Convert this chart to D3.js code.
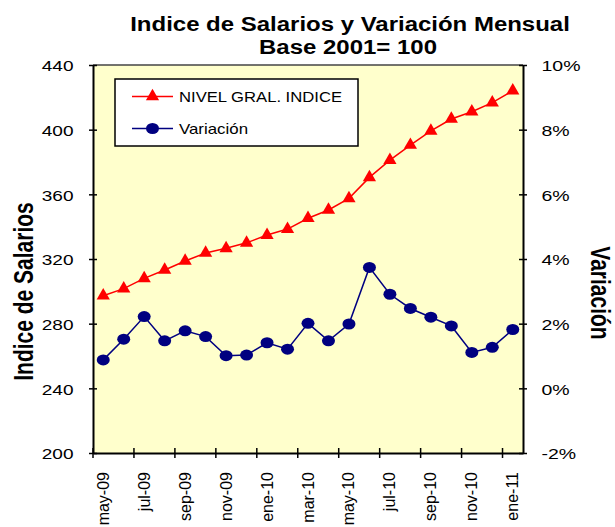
<!DOCTYPE html>
<html>
<head>
<meta charset="utf-8">
<script src="https://cdn.jsdelivr.net/npm/d3@7"></script>
<style>
  body { margin: 0; background: #fff; }
  text { font-family: Arial, "Liberation Sans", sans-serif; }
</style>
</head>
<body>
<div id="chartbox"></div>
<script>
// months, may-09 .. ene-11
var months = ['may-09','jun-09','jul-09','ago-09','sep-09','oct-09','nov-09','dic-09',
  'ene-10','feb-10','mar-10','abr-10','may-10','jun-10','jul-10','ago-10','sep-10','oct-10',
  'nov-10','dic-10','ene-11'];
var indice = [297.3, 301.7, 308, 313.2, 318.8, 323.7, 326.6, 330, 334.8, 338.5, 345.2,
  350.3, 357.5, 370.5, 381.2, 390.5, 399.2, 406.6, 411.1, 416.7, 424.1];
var variacion = [0.88, 1.52, 2.22, 1.47, 1.78, 1.60, 1.01, 1.03, 1.41, 1.21, 2.01,
  1.47, 1.99, 3.74, 2.91, 2.47, 2.20, 1.93, 1.11, 1.27, 1.82];
var leftTicks = [200, 240, 280, 320, 360, 400, 440];
var rightTicks = [-2, 0, 2, 4, 6, 8, 10];

const width = 615, height = 527;
var margin = {top: 65, right: 92, bottom: 74, left: 93};
var stretch = 1.27; // the picture is a bit wide

var svg = d3.select('#chartbox').append('svg')
  .attr('width', width).attr('height', height);

var x = d3.scaleBand().domain(months).range([margin.left, width - margin.right]);
var y = d3.scaleLinear().domain([200, 440]).range([height - margin.bottom, margin.top]);
var y2 = d3.scaleLinear().domain([-2, 10]).range([height - margin.bottom, margin.top]);
var cx = function(i) { return x(months[i]) + x.bandwidth() / 2; };

// plot background
svg.append('rect')
  .attr('x', margin.left).attr('y', margin.top)
  .attr('width', width - margin.right - margin.left)
  .attr('height', height - margin.bottom - margin.top)
  .attr('fill', '#ffffcc');
svg.append('line')
  .attr('x1', margin.left).attr('x2', width - margin.right)
  .attr('y1', margin.top).attr('y2', margin.top)
  .attr('stroke', '#444').attr('stroke-width', 1.5);

// axes (labels drawn by hand below so they can be stretched)
var yAxis = d3.axisLeft(y).tickValues(leftTicks).tickSizeInner(4).tickSizeOuter(0).tickFormat('');
var gy = svg.append('g').attr('transform', 'translate(' + margin.left + ',0)').call(yAxis);
var y2Axis = d3.axisRight(y2).tickValues(rightTicks).tickSizeInner(4).tickSizeOuter(0).tickFormat('');
var gy2 = svg.append('g').attr('transform', 'translate(' + (width - margin.right) + ',0)').call(y2Axis);
var xAxis = d3.axisBottom(x).tickValues([]).tickSizeOuter(0);
var gx = svg.append('g').attr('transform', 'translate(0,' + (height - margin.bottom) + ')').call(xAxis);

[gy, gy2, gx].forEach(function(g) {
  g.select('.domain').attr('stroke', '#000').attr('stroke-width', 2);
  g.selectAll('.tick line').attr('stroke', '#000').attr('stroke-width', 1.5);
});
gy.selectAll('.tick line').attr('x1', 4);
gy2.selectAll('.tick line').attr('x1', -4);

gy.selectAll('.tick').append('text')
  .attr('transform', 'translate(-19.5,0) scale(' + stretch + ',1)')
  .attr('dy', '0.38em').attr('text-anchor', 'end')
  .attr('font-size', 15).attr('fill', '#000')
  .text(function(d) { return d; });
gy2.selectAll('.tick').append('text')
  .attr('transform', 'translate(18.5,0) scale(1.3,1)')
  .attr('dy', '0.38em').attr('text-anchor', 'start')
  .attr('font-size', 15).attr('fill', '#000')
  .text(function(d) { return d + '%'; });

// category ticks every 2 months, labels on band centres
var tickIdx = d3.range(0, months.length + 1, 2);
gx.selectAll('line.cat').data(tickIdx).enter().append('line')
  .attr('class', 'cat')
  .attr('x1', function(i) { return i < months.length ? x(months[i]) : x.range()[1]; })
  .attr('x2', function(i) { return i < months.length ? x(months[i]) : x.range()[1]; })
  .attr('y1', -5).attr('y2', 5)
  .attr('stroke', '#000').attr('stroke-width', 1.5);
gx.selectAll('text.cat').data(months.filter(function(d, i) { return i % 2 == 0; })).enter().append('text')
  .attr('class', 'cat')
  .attr('transform', function(d) { return 'translate(' + (x(d) + x.bandwidth() / 2 + 5.5) + ',19) rotate(-90)'; })
  .attr('text-anchor', 'end')
  .attr('font-size', 16)
  .attr('fill', '#000')
  .text(function(d) { return d; });

// lines
var lineIdx = d3.line().x(function(d, i) { return cx(i); }).y(function(d) { return y(d); });
var lineVar = d3.line().x(function(d, i) { return cx(i); }).y(function(d) { return y2(d); });

svg.append('path').datum(indice).attr('d', lineIdx)
  .attr('fill', 'none').attr('stroke', '#ff0000').attr('stroke-width', 1.5);
svg.append('path').datum(variacion).attr('d', lineVar)
  .attr('fill', 'none').attr('stroke', '#000080').attr('stroke-width', 1.5);

var tri = d3.symbol().type(d3.symbolTriangle).size(76);
svg.selectAll('path.tri').data(indice).enter().append('path')
  .attr('class', 'tri')
  .attr('d', tri)
  .attr('transform', function(d, i) { return 'translate(' + cx(i) + ',' + y(d) + ')'; })
  .attr('fill', '#ff0000');

svg.selectAll('ellipse.dot').data(variacion).enter().append('ellipse')
  .attr('class', 'dot')
  .attr('cx', function(d, i) { return cx(i); })
  .attr('cy', function(d) { return y2(d); })
  .attr('rx', 6.5).attr('ry', 5.5)
  .attr('fill', '#000080');

// legend
var lg = svg.append('g');
lg.append('rect').attr('x', 115).attr('y', 79).attr('width', 243).attr('height', 67)
  .attr('fill', '#fff').attr('stroke', '#000').attr('stroke-width', 1.5);
lg.append('line').attr('x1', 132).attr('x2', 173).attr('y1', 96.5).attr('y2', 96.5)
  .attr('stroke', '#ff0000').attr('stroke-width', 1.5);
lg.append('path').attr('d', tri).attr('transform', 'translate(152.5,96.5)').attr('fill', '#ff0000');
lg.append('text').attr('x', 179).attr('y', 101.7).attr('font-size', 15)
  .attr('textLength', 163).attr('lengthAdjust', 'spacingAndGlyphs').text('NIVEL GRAL. INDICE');
lg.append('line').attr('x1', 132).attr('x2', 173).attr('y1', 128.5).attr('y2', 128.5)
  .attr('stroke', '#000080').attr('stroke-width', 1.5);
lg.append('ellipse').attr('cx', 152.5).attr('cy', 128.5).attr('rx', 6.5).attr('ry', 5.5).attr('fill', '#000080');
lg.append('text').attr('x', 179).attr('y', 134).attr('font-size', 15)
  .attr('textLength', 69).attr('lengthAdjust', 'spacingAndGlyphs').text('Variación');

// titles
svg.append('text').attr('transform', 'translate(350,30.7) scale(1.23,1)').attr('text-anchor', 'middle')
  .attr('font-size', 19.5).attr('font-weight', 'bold').text('Indice de Salarios y Variación Mensual');
svg.append('text').attr('transform', 'translate(348,54) scale(1.23,1)').attr('text-anchor', 'middle')
  .attr('font-size', 19.5).attr('font-weight', 'bold').text('Base 2001= 100');
svg.append('text').attr('transform', 'translate(33,291.5) rotate(-90) scale(1,1.3)').attr('text-anchor', 'middle')
  .attr('font-size', 21).attr('font-weight', 'bold').text('Indice de Salarios');
svg.append('text').attr('transform', 'translate(591,293) rotate(90) scale(1,1.3)').attr('text-anchor', 'middle')
  .attr('font-size', 21).attr('font-weight', 'bold').text('Variación');
</script>
</body>
</html>
